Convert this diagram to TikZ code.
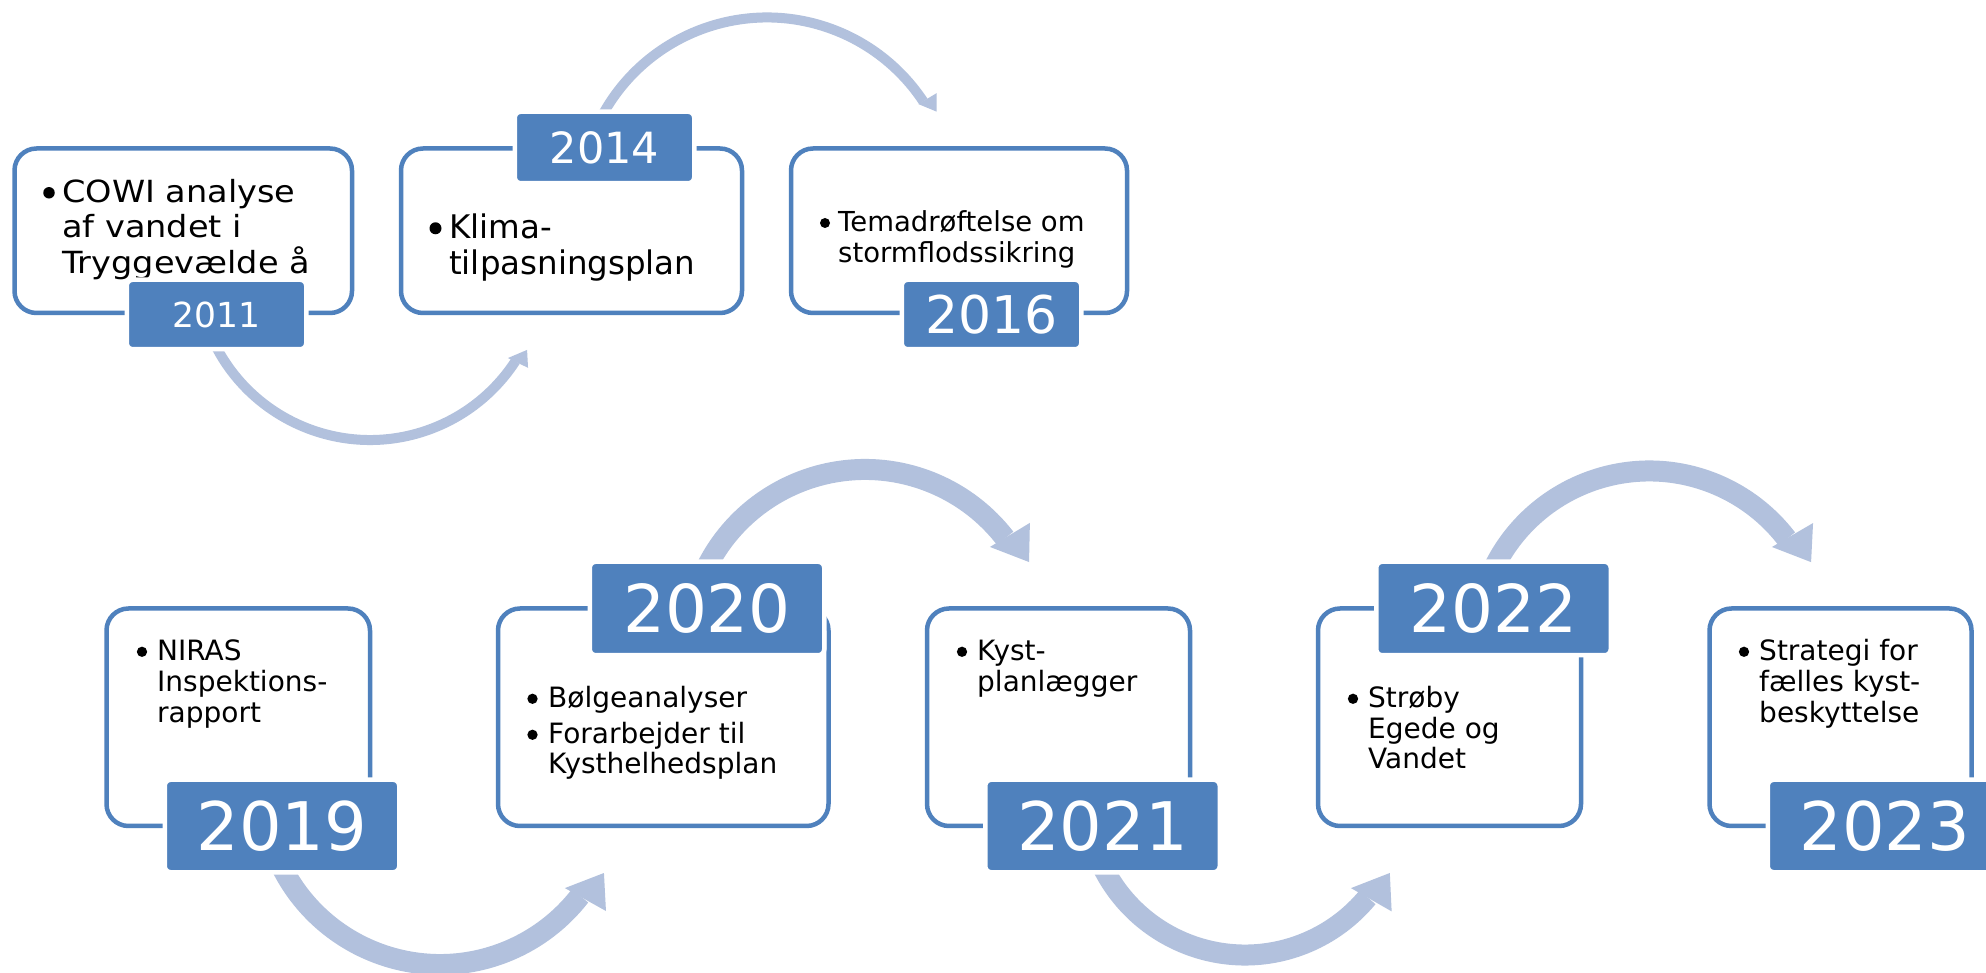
\documentclass[tikz,border=0pt]{standalone}
\usepackage{fontspec}
\setmainfont{DejaVu Sans}
\newfontfamily\widefont[FakeStretch=1.1]{DejaVu Sans}
\usetikzlibrary{calc}
\definecolor{boxblue}{RGB}{79,129,189}
\definecolor{arcblue}{RGB}{178,193,221}
\begin{document}
\begin{tikzpicture}[x=1pt,y=1pt,
  boxst/.style={draw=boxblue, line width=4.5pt, rounded corners=22pt, inner sep=0pt},
  yearlbl/.style={fill=boxblue, draw=white, line width=4.5pt, rounded corners=6pt, text=white, inner sep=0pt},
  txt/.style={anchor=base west, inner sep=0pt, text=black},
  bul/.style={circle, fill=black, inner sep=0pt, minimum size=#1},
  arcln/.style={draw=arcblue, line width=#1},
  headst/.style={fill=arcblue}
]
\useasboundingbox (0,0) rectangle (1986,972);
\clip (0,0) rectangle (1986,972);
\fill[white] (0,0) rectangle (1986,972);

% ---------- arc centres ----------
\coordinate (c1) at (370,705.6);
\coordinate (c2) at (767,767);
\coordinate (c3) at (440,184.7);
\coordinate (c4) at (865,325.3);
\coordinate (c5) at (1245,176);
\coordinate (c6) at (1649.3,327.8);

% ---------- arcs ----------
\draw[arcln=10pt] ($(c1)+(203:173.6)$) arc[start angle=203, end angle=326.9, radius=173.6];
\fill[headst] ($(c1)+(326.4:165.6)$) -- ($(c1)+(327.3:187.8)$) -- ($(c1)+(332:177.9)$) -- cycle;

\draw[arcln=10pt] ($(c2)+(157:187.5)$) arc[start angle=157, end angle=33.55, radius=187.5];
\fill[headst] ($(c2)+(33.7:181.9)$) -- ($(c2)+(33.4:203.2)$) -- ($(c2)+(28.8:193.7)$) -- cycle;

\draw[arcln=21pt] ($(c3)+(203:177.2)$) arc[start angle=203, end angle=322.2, radius=177.2];
\fill[headst] ($(c3)+(321.1:160.5)$) -- ($(c3)+(323.3:207)$) -- ($(c3)+(332.4:185)$) -- cycle;

\draw[arcln=21pt] ($(c4)+(157:177.2)$) arc[start angle=157, end angle=37.75, radius=177.2];
\fill[headst] ($(c4)+(38.6:159.9)$) -- ($(c4)+(36.9:206.2)$) -- ($(c4)+(27.3:184.6)$) -- cycle;

\draw[arcln=21pt] ($(c5)+(203:159)$) arc[start angle=203, end angle=320.4, radius=159];
\fill[headst] ($(c5)+(319:140.4)$) -- ($(c5)+(321.8:186.6)$) -- ($(c5)+(332:164)$) -- cycle;

\draw[arcln=21pt] ($(c6)+(157:173.2)$) arc[start angle=157, end angle=37.45, radius=173.2];
\fill[headst] ($(c6)+(38.4:156.5)$) -- ($(c6)+(36.5:203.7)$) -- ($(c6)+(26.9:181.4)$) -- cycle;

% ---------- boxes ----------
\node[boxst, minimum width=337.5pt, minimum height=164.5pt] (bA) at (183.25,741.25) {};
\node[boxst, minimum width=341pt, minimum height=164.5pt] (bB) at (571.5,741.25) {};
\node[boxst, minimum width=336pt, minimum height=164.5pt] (bC) at (959,741.25) {};
\node[boxst, minimum width=263.5pt, minimum height=217.5pt] (bD) at (238.25,254.75) {};
\node[boxst, minimum width=330.5pt, minimum height=217.5pt] (bE) at (663.25,254.75) {};
\node[boxst, minimum width=263pt, minimum height=217.5pt] (bF) at (1058.5,254.75) {};
\node[boxst, minimum width=263pt, minimum height=217.5pt] (bG) at (1449.5,254.75) {};
\node[boxst, minimum width=262pt, minimum height=217.5pt] (bH) at (1840.5,254.75) {};

% ---------- texts ----------
\node[bul=11.5pt] (uA) at (49,779.2) {};
\node[txt, font=\widefont\fontsize{30.5}{37}\selectfont] (tA1) at (62,769) {COWI analyse};
\node[txt, font=\widefont\fontsize{30.5}{37}\selectfont] (tA2) at (62,734) {af vandet i};
\node[txt, font=\widefont\fontsize{30.5}{37}\selectfont] (tA3) at (62,698) {Tryggevælde å};

\node[bul=12pt] (uB) at (435.5,743.7) {};
\node[txt, font=\fontsize{32.5}{38}\selectfont] (tB1) at (449,733) {Klima-};
\node[txt, font=\fontsize{32.5}{38}\selectfont] (tB2) at (449,697) {tilpasningsplan};

\node[bul=10pt] (uC) at (825,749) {};
\node[txt, font=\fontsize{27.5}{32}\selectfont] (tC1) at (838,740) {Temadrøftelse om};
\node[txt, font=\fontsize{27.5}{32}\selectfont] (tC2) at (838,709) {stormflodssikring};

\node[bul=10.3pt] (uD) at (142,320.2) {};
\node[txt, font=\fontsize{28}{32}\selectfont] (tD1) at (157,311) {NIRAS};
\node[txt, font=\fontsize{28}{32}\selectfont] (tD2) at (157,280) {Inspektions-};
\node[txt, font=\fontsize{28}{32}\selectfont] (tD3) at (157,249) {rapport};

\node[bul=10.3pt] (uE1) at (532.5,273.2) {};
\node[txt, font=\fontsize{28}{32}\selectfont] (tE1) at (548,264) {Bølgeanalyser};
\node[bul=10.3pt] (uE2) at (532.5,237.2) {};
\node[txt, font=\fontsize{28}{32}\selectfont] (tE2) at (548,228) {Forarbejder til};
\node[txt, font=\fontsize{28}{32}\selectfont] (tE3) at (548,198) {Kysthelhedsplan};

\node[bul=10.3pt] (uF) at (962,320.2) {};
\node[txt, font=\fontsize{28}{32}\selectfont] (tF1) at (977,311) {Kyst-};
\node[txt, font=\fontsize{28}{32}\selectfont] (tF2) at (977,280) {planlægger};

\node[bul=10.3pt] (uG) at (1353,273.2) {};
\node[txt, font=\fontsize{28}{32}\selectfont] (tG1) at (1368,264) {Strøby};
\node[txt, font=\fontsize{28}{32}\selectfont] (tG2) at (1368,233) {Egede og};
\node[txt, font=\fontsize{28}{32}\selectfont] (tG3) at (1368,203) {Vandet};

\node[bul=10.3pt] (uH) at (1744,320.2) {};
\node[txt, font=\fontsize{28}{32}\selectfont] (tH1) at (1759,311) {Strategi for};
\node[txt, font=\fontsize{28}{32}\selectfont] (tH2) at (1759,280) {fælles kyst-};
\node[txt, font=\fontsize{28}{32}\selectfont] (tH3) at (1759,249) {beskyttelse};

% ---------- year labels ----------
\node[yearlbl, minimum width=179.5pt, minimum height=69.5pt, font=\fontsize{34.5}{40}\selectfont] (y2011) at (216.5,657.5) {2011};
\node[yearlbl, minimum width=179.5pt, minimum height=71.5pt, font=\fontsize{43}{50}\selectfont] (y2014) at (604.5,824.5) {2014};
\node[yearlbl, minimum width=179.5pt, minimum height=69.5pt, font=\fontsize{52}{60}\selectfont] (y2016) at (991.5,657.5) {2016};
\node[yearlbl, minimum width=234.5pt, minimum height=92.5pt, font=\fontsize{67}{78}\selectfont] (y2019) at (282,146) {2019};
\node[yearlbl, minimum width=234.5pt, minimum height=93.5pt, font=\fontsize{66}{78}\selectfont] (y2020) at (707,363.5) {2020};
\node[yearlbl, minimum width=234.5pt, minimum height=92.5pt, font=\fontsize{67}{78}\selectfont] (y2021) at (1102.5,146) {2021};
\node[yearlbl, minimum width=234.5pt, minimum height=93.5pt, font=\fontsize{66}{78}\selectfont] (y2022) at (1493.5,363.5) {2022};
\node[yearlbl, minimum width=234.5pt, minimum height=92.5pt, font=\fontsize{67}{78}\selectfont] (y2023) at (1885,146) {2023};
\end{tikzpicture}
\end{document}
